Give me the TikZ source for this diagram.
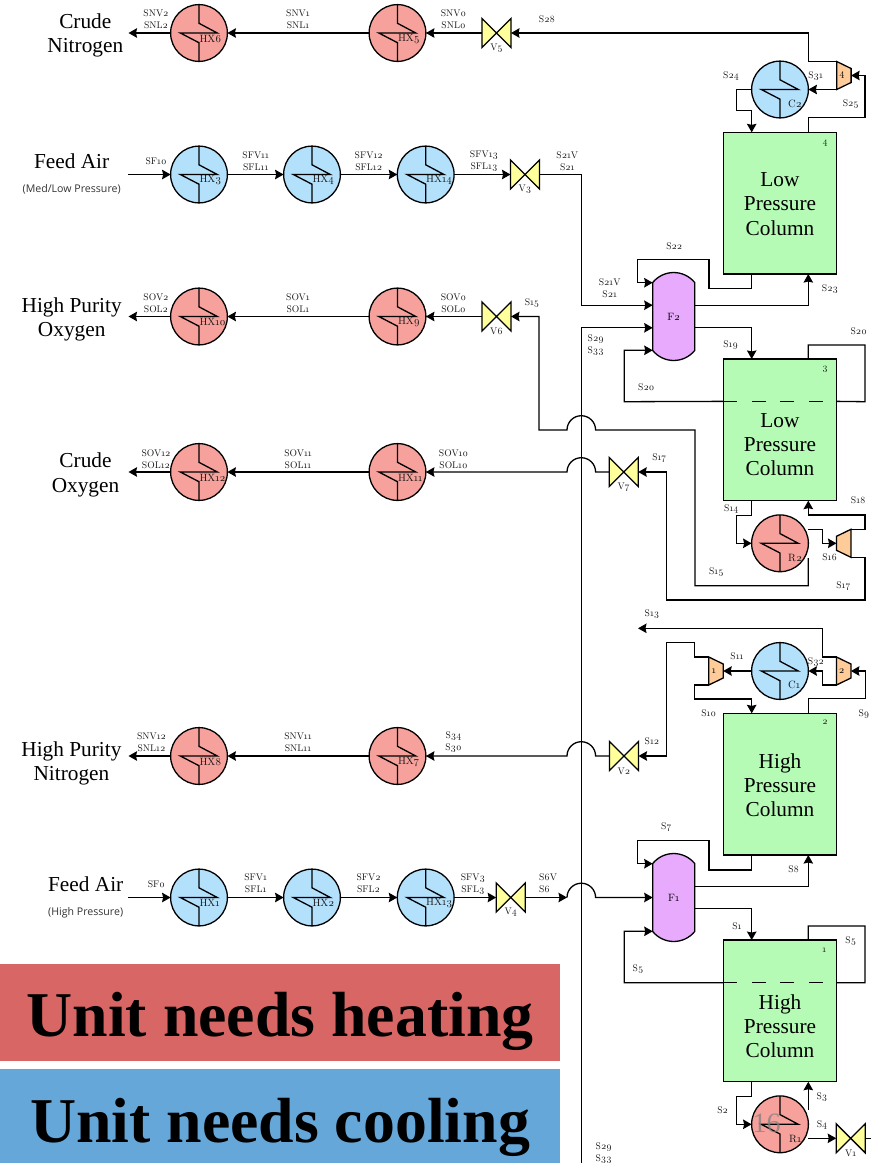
\documentclass[tikz,border=0pt]{standalone}
\usepackage{fontspec}
\setmainfont{Liberation Serif}
\newfontfamily\tagfamily[Numbers=OldStyle]{Latin Modern Roman}
\newfontfamily\notefamily{Open Sans}
\usetikzlibrary{arrows.meta}

\definecolor{heatfill}{HTML}{F6A19B}
\definecolor{coolfill}{HTML}{B3E0FB}
\definecolor{colfill}{HTML}{B5FBB5}
\definecolor{drumfill}{HTML}{E8AAFC}
\definecolor{valvefill}{HTML}{FFFF9C}
\definecolor{unitfill}{HTML}{FFCC99}
\definecolor{heatbar}{HTML}{D86664}
\definecolor{coolbar}{HTML}{66A7DA}

\tikzset{
    pipe/.style={line width=1.3pt, line join=miter},
    flow/.style={pipe, -{Stealth[length=8.5pt, width=9.5pt, inset=1pt]}},
    shapeline/.style={line width=1.3pt, line join=miter},
    hxunit/.style={circle, draw, shapeline, minimum size=56.8pt, inner sep=0pt, outer sep=0pt},
    ghost/.style={inner sep=0pt, outer sep=0pt},
    column/.style={rectangle, draw, shapeline, fill=colfill, minimum width=113.4pt, minimum height=141.7pt, inner sep=0pt, outer sep=0pt},
    coldash/.style={pipe, dash pattern=on 14pt off 14.5pt},
    streamtag/.style={align=center, inner sep=0pt, text=black!90, font=\tagfamily\fontsize{9.6}{12}\selectfont},
    nametag/.style={anchor=west, inner sep=0pt, text=black!90, font=\tagfamily\fontsize{10.6}{12}\selectfont},
    title/.style={align=center, inner sep=0pt, font=\fontsize{21.3}{24.2}\selectfont},
    note/.style={inner sep=0pt, text=black!80, font=\notefamily\fontsize{10.6}{12}\selectfont},
    bartext/.style={anchor=base, inner sep=0pt, font=\bfseries\fontsize{63.8}{70}\selectfont},
}

% heat exchanger: name, x, y, fill, label, label position
\newcommand{\hexch}[6]{
    \begin{scope}[shift={(#2,#3)}]
        \node[hxunit, fill=#4] (#1) at (0,0) {};
        \draw[shapeline] (0,-28.4) -- (0,-9.7) -- (18.3,0) -- (-18.7,0) -- (0,9.7) -- (0,28.4);
        \node[nametag] (#1tag) at (#6) {#5};
    \end{scope}
}
% valve: name, x, y, label
\newcommand{\valve}[4]{
    \begin{scope}[shift={(#2,#3)}]
        \draw[shapeline, fill=valvefill] (-14.5,-14.5) -- (14.5,14.5) -- (14.5,-14.5) -- (-14.5,14.5) -- cycle;
        \node[ghost, minimum size=29pt] (#1) at (0,0) {};
        \node[streamtag] (#1tag) at (0,15) {#4};
    \end{scope}
}
% compressor: name, x, y, direction, label
\newcommand{\comp}[5]{
    \begin{scope}[shift={(#2,#3)}]
        \draw[shapeline, fill=unitfill, xscale=#4] (-7.2,-14) -- (7.2,-7) -- (7.2,7) -- (-7.2,14) -- cycle;
        \node[ghost, minimum width=14.4pt, minimum height=28pt] (#1) at (0,0) {};
        \node[ghost, font=\tagfamily\fontsize{10}{10}\selectfont] (#1tag) at (-2,0) {#5};
    \end{scope}
}
% flash drum: name, x, y, label
\newcommand{\drum}[4]{
    \begin{scope}[shift={(#2,#3)}]
        \draw[shapeline, fill=drumfill] (-21,-34) .. controls (-10,-47.3) and (10,-47.3) .. (21,-34)
            -- (21,34) .. controls (10,47.3) and (-10,47.3) .. (-21,34) -- cycle;
        \node[ghost, minimum width=42pt, minimum height=88pt] (#1) at (0,0) {};
        \node[ghost, font=\tagfamily\fontsize{10.6}{12}\selectfont] (#1tag) at (0,0) {#4};
    \end{scope}
}

\begin{document}
\begin{tikzpicture}[x=1pt, y=-1pt]
        \useasboundingbox (0,0) rectangle (871,1163);

        % Heat exchangers on the left
        \foreach \nm/\hx/\hy/\col/\lab in {
            hx6/199/33/heatfill/HX6, hx5/397.5/33/heatfill/HX5,
            hx3/199/174.5/coolfill/HX3, hx4/312/174.5/coolfill/HX4, hx14/425.7/174.5/coolfill/HX14,
            hx10/199/316.5/heatfill/HX10, hx9/397.5/316.5/heatfill/HX9,
            hx12/199/472/heatfill/HX12, hx11/397.5/472/heatfill/HX11,
            hx8/199/756/heatfill/HX8, hx7/397.5/756/heatfill/HX7,
            hx1/199/897.5/coolfill/HX1, hx2/312/897.5/coolfill/HX2, hx13/425.7/897.5/coolfill/HX13} {
            \hexch{\nm}{\hx}{\hy}{\col}{\lab}{0.3,5.7}
        }

        % Condensers and reboilers
        \hexch{c2}{780}{89.5}{coolfill}{C2}{8,14.3}
        \hexch{c1}{780}{671}{coolfill}{C1}{8,14.3}
        \hexch{r2}{780}{543.3}{heatfill}{R2}{8,14.3}
        \hexch{r1}{780}{1124.3}{heatfill}{R1}{9,14.3}

        % Valves
        \valve{v5}{496.5}{33}{V5}
        \valve{v3}{525}{174.5}{V3}
        \valve{v6}{496.5}{316.5}{V6}
        \valve{v7}{623.7}{472}{V7}
        \valve{v2}{624}{756}{V2}
        \valve{v4}{510.7}{897.5}{V4}
        \valve{v1}{850.7}{1138.3}{V1}

        % Compressors
        \comp{u4}{843.9}{75.5}{1}{4}
        \comp{u2}{843.7}{671}{1}{2}
        \comp{u1}{716}{671}{1}{1}
        \comp{u16}{843.7}{543.3}{-1}{}

        % Flash drums
        \drum{f2}{673.7}{316.5}{F2}
        \drum{f1}{673.7}{897.5}{F1}

        % Columns
        \node[column] (col4) at (780,203.2) {};
        \node[column] (col3) at (780,429.8) {};
        \node[column] (col2) at (780,784.2) {};
        \node[column] (col1) at (780,1010.9) {};
        \node[title] (col4txt) at (780,204) {Low\\Pressure\\Column};
        \node[title] (col3txt) at (780,444.5) {Low\\Pressure\\Column};
        \node[title] (col2txt) at (780,785) {High\\Pressure\\Column};
        \node[title] (col1txt) at (780,1026) {High\\Pressure\\Column};
        \draw[coldash] ([yshift=-42.4pt]col3.north west) -- ([yshift=-42.4pt]col3.north east);
        \draw[coldash] ([yshift=-42.7pt]col1.north west) -- ([yshift=-42.7pt]col1.north east);

        % Free ends
        \coordinate (outn) at (128.5,33);
        \coordinate (inm) at (128,174.5);
        \coordinate (outo) at (128.5,316.5);
        \coordinate (outc) at (128.5,472);
        \coordinate (outh) at (128.5,756);
        \coordinate (inh) at (128,897.5);
        \coordinate (s13end) at (638,628.3);
        \coordinate (s29low) at (581.3,1163);
        \coordinate (r2hot) at (808.3,529.3);
        \coordinate (r2cold) at (808.3,558);
        \coordinate (r1hot) at (808.3,1110);
        \coordinate (r1cold) at (808.3,1138.3);
        \coordinate (v1end) at (871,1138.3);

        % Rows of exchangers
        \draw[flow] (v5.west) -- (hx5.east);
        \draw[flow] (hx5.west) -- (hx6.east);
        \draw[flow] (hx6.west) -- (outn);
        \draw[flow] (inm) -- (hx3.west);
        \draw[flow] (hx3.east) -- (hx4.west);
        \draw[flow] (hx4.east) -- (hx14.west);
        \draw[flow] (hx14.east) -- (v3.west);
        \draw[flow] (v6.west) -- (hx9.east);
        \draw[flow] (hx9.west) -- (hx10.east);
        \draw[flow] (hx10.west) -- (outo);
        \draw[flow] (v7.west) -- (595.6,472) arc[start angle=0, end angle=-180, radius=14.3] -- (hx11.east);
        \draw[flow] (hx11.west) -- (hx12.east);
        \draw[flow] (hx12.west) -- (outc);
        \draw[flow] (v2.west) -- (595.6,756) arc[start angle=0, end angle=-180, radius=14.3] -- (hx7.east);
        \draw[flow] (hx7.west) -- (hx8.east);
        \draw[flow] (hx8.west) -- (outh);
        \draw[flow] (inh) -- (hx1.west);
        \draw[flow] (hx1.east) -- (hx2.west);
        \draw[flow] (hx2.east) -- (hx13.west);
        \draw[flow] (hx13.east) -- (v4.west);
        \draw[flow] (v4.east) -- (567,897.5);
        \draw[flow] (567,897.5) arc[start angle=-180, end angle=0, radius=14.3] -- (f1.west);

        % Long vertical lines
        \draw[flow] (v3.east) -- (581.3,174.5) -- (581.3,305.2) -- ([yshift=11.3pt]f2.west);
        \draw[flow] (s29low) -- (581.3,327.8) -- ([yshift=-11.3pt]f2.west);

        % Low pressure section, upper column
        \draw[flow] (u4.north west) -- (808.3,61.5) -- (808.3,33) -- (v5.east);
        \draw[flow] (u4.south west) -- (c2.east);
        \draw[flow] (c2.west) -- (736.7,89.5) -- (736.7,110.3) -- (751.7,110.3) -- ([xshift=28.4pt]col4.north west);
        \draw[flow] ([xshift=85pt]col4.north west) -- (808.3,117.3) -- (865,117.3) -- (865,75.5) -- (u4.east);
        \draw[flow] ([xshift=28.4pt]col4.south west) -- (751.7,288.7) -- (709,288.7) -- (709,259.3) -- (637.7,259.3) -- (637.7,282.7) -- ([yshift=33.8pt]f2.west);
        \draw[flow] ([yshift=11.3pt]f2.east) -| ([xshift=85pt]col4.south west);
        \draw[flow] ([yshift=-11.3pt]f2.east) -| ([xshift=28.4pt]col3.north west);

        % Low pressure section, lower column
        \draw[flow] ([yshift=-42.4pt]col3.north west) -- (624.3,401.7) -- (624.3,350.3) -- ([yshift=-33.8pt]f2.west);
        \draw[pipe] ([yshift=-42.4pt]col3.north east) -- (865,401.7) -- (865,345) -- (808.3,345) -- ([xshift=85pt]col3.north west);
        \draw[flow] ([xshift=28.4pt]col3.south west) -- (751.7,515.3) -- (736.7,515.3) -- (736.7,543.3) -- (r2.west);
        \draw[flow] (u16.north east) -- (865,529.3) -- (865,515) -- (808.3,515) -- ([xshift=85pt]col3.south west);
        \draw[flow] (r2hot) -- (822.3,529.3) -- (822.3,543.3) -- (u16.west);
        \draw[flow] (r2cold) -- (808.3,585.7) -- (695,585.7) -- (695,430) -- (595.6,430) arc[start angle=0, end angle=-180, radius=14.3] -- (539,430) -- (539,316.5) -- (v6.east);
        \draw[flow] (u16.south east) -- (865,557.3) -- (865,600) -- (666.7,600) -- (666.7,472) -- (v7.east);

        % High pressure section, upper column
        \draw[flow] (u2.north west) -- (822.7,657) -- (822.7,628.3) -- (s13end);
        \draw[flow] (u2.south west) -- (822.7,685) -- (822.7,671) -- (c1.east);
        \draw[flow] (c1.west) -- (u1.east);
        \draw[flow] (u1.north west) -- (694.7,657) -- (694.7,642.7) -- (666.7,642.7) -- (666.7,756) -- (v2.east);
        \draw[flow] (u1.south west) -- (694.7,685) -- (694.7,699) -- (751.7,699) -- ([xshift=28.4pt]col2.north west);
        \draw[flow] ([xshift=85pt]col2.north west) -- (808.3,698.7) -- (865.7,698.7) -- (865.7,671) -- (u2.east);
        \draw[flow] ([xshift=28.4pt]col2.south west) -- (751.7,870) -- (709,870) -- (709,840.7) -- (637.3,840.7) -- (637.3,863.7) -- ([yshift=33.8pt]f1.west);
        \draw[flow] ([yshift=11.3pt]f1.east) -| ([xshift=85pt]col2.south west);
        \draw[flow] ([yshift=-11.3pt]f1.east) -| ([xshift=28.4pt]col1.north west);

        % High pressure section, lower column
        \draw[flow] ([yshift=-42.7pt]col1.north west) -- (624.3,982.7) -- (624.3,931.3) -- ([yshift=-33.8pt]f1.west);
        \draw[pipe] ([yshift=-42.7pt]col1.north east) -- (865,982.7) -- (865,926) -- (808.3,926) -- ([xshift=85pt]col1.north west);
        \draw[flow] ([xshift=28.4pt]col1.south west) -- (751.7,1096.7) -- (736.7,1096.7) -- (736.7,1124.3) -- (r1.west);
        \draw[flow] (r1hot) -- ([xshift=85pt]col1.south west);
        \draw[flow] (r1cold) -- (v1.west);
        \draw[pipe] (v1.east) -- (v1end);

        % Stream labels
        \foreach \lx/\ly/\txt [count=\i] in {
            156/19/{SNV2\\SNL2}, 298/19/{SNV1\\SNL1}, 453.5/19/{SNV0\\SNL0}, 547/19/{S28},
            731/76/{S24}, 815.7/76/{S31}, 850.7/104.3/{S25}, 825/142.7/{4},
            156/161/{SF10}, 255.7/161/{SFV11\\SFL11}, 368.7/161/{SFV12\\SFL12}, 484/161/{SFV13\\SFL13}, 567.3/161/{S21V\\S21},
            674.3/246/{S22}, 830/289.3/{S23}, 609.7/288.7/{S21V\\S21},
            156/303/{SOV2\\SOL2}, 298/303/{SOV1\\SOL1}, 453.5/303/{SOV0\\SOL0}, 532/302.7/{S15},
            595.7/345.5/{S29\\S33}, 646.3/387.3/{S20}, 730.7/345.3/{S19}, 858.7/331/{S20}, 825/369.3/{3},
            156/459/{SOV12\\SOL12}, 298/459/{SOV11\\SOL11}, 453.5/459/{SOV10\\SOL10}, 659.3/458.3/{S17},
            731.3/509.3/{S14}, 858.3/500.7/{S18}, 829.7/557.7/{S16}, 716.3/572/{S15}, 843.3/586/{S17},
            652/614.3/{S13}, 737/656.7/{S11}, 816/662.3/{S32}, 708.7/713.7/{S10}, 864/713.7/{S9}, 652/741.7/{S12}, 825/722.7/{2},
            151.5/742/{SNV12\\SNL12}, 298/742/{SNV11\\SNL11}, 453.5/742/{S34\\S30},
            666.3/827.3/{S7}, 793.7/869.3/{S8},
            156.4/884/{SF0}, 255.7/883.7/{SFV1\\SFL1}, 368.6/883.7/{SFV2\\SFL2}, 472.9/883.7/{SFV3\\SFL3},
            737/926/{S1}, 850.7/941/{S5}, 824.3/950/{1}, 638/969.3/{S5},
            722.7/1110.7/{S2}, 822/1097/{S3}, 822/1125/{S4}, 603.7/1153.3/{S29\\S33}} {
            \node[streamtag] (tag\i) at (\lx,\ly) {\txt};
        }
        \node[streamtag, align=left] (tags6) at (548,883.7) {S6V\\S6};

        % Product and feed names
        \node[title] (crudeN) at (85.3,35.5) {Crude\\Nitrogen};
        \node[title] (feedM) at (71.7,161) {Feed Air};
        \node[note] (feedMnote) at (71.7,189.3) {(Med/Low Pressure)};
        \node[title] (pureO) at (71.7,319.5) {High Purity\\Oxygen};
        \node[title] (crudeO) at (85.5,475) {Crude\\Oxygen};
        \node[title] (pureN) at (71.4,763.5) {High Purity\\Nitrogen};
        \node[title] (feedH) at (85.7,884) {Feed Air};
        \node[note] (feedHnote) at (85.7,912.3) {(High Pressure)};

        % Legend bars
        \fill[heatbar] (0,964) rectangle (560,1061);
        \fill[coolbar] (0,1069) rectangle (560,1163);
        \node[bartext] (heatlab) at (280,1036) {Unit needs heating};
        \node[bartext] (coollab) at (280,1142) {Unit needs cooling};

        % Page number
        \node[inner sep=0pt, text=gray, text opacity=0.75, font=\fontsize{28}{30}\selectfont] (pageno) at (766.7,1123.3) {16};
    \end{tikzpicture}
\end{document}
